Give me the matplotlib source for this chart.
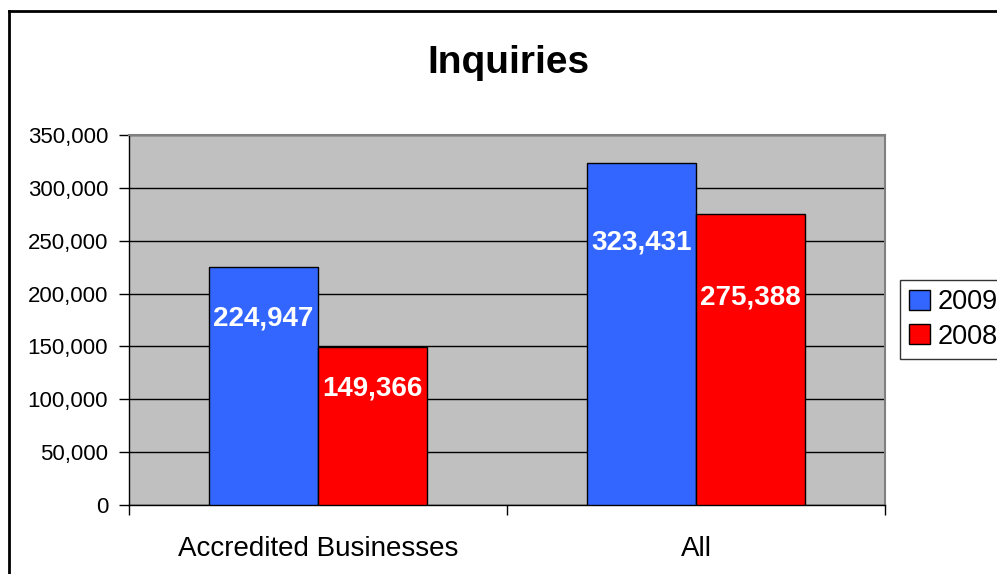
import numpy as np
import matplotlib.pyplot as plt
from matplotlib.lines import Line2D

# data
categories = ['Accredited Businesses', 'All']
series_names = ['2009', '2008']
values_2009 = [224947, 323431]
values_2008 = [149366, 275388]
yticks = [0, 50000, 100000, 150000, 200000, 250000, 300000, 350000]

# how far below the bar top the value labels sit (points)
label_drop_2009 = [37, 57]
label_drop_2008 = [30, 60]

plt.rcParams['font.family'] = ['Liberation Sans', 'DejaVu Sans']

fig = plt.figure(figsize=(9.97, 5.74), dpi=100)
ax = fig.add_axes([129/997, 69/574, 756/997, 370/574])
ax.set_facecolor('#C0C0C0')

x = np.arange(len(categories))
w = 0.288
b1 = ax.bar(x - w/2, values_2009, w, color='#3366FF', edgecolor='black', linewidth=1, label=series_names[0], zorder=3)
b2 = ax.bar(x + w/2, values_2008, w, color='#FF0000', edgecolor='black', linewidth=1, label=series_names[1], zorder=3)

for bars, drops in ((b1, label_drop_2009), (b2, label_drop_2008)):
    for r, d in zip(bars, drops):
        h = r.get_height()
        ax.annotate(f'{h:,}', (r.get_x() + r.get_width()/2, h), xytext=(0, -d),
                    textcoords='offset points', ha='center', va='center',
                    color='white', fontsize=20, fontweight='bold', zorder=4)

ax.set_xlim(-0.5, 1.5)
ax.set_ylim(0, 350000)
ax.set_yticks(yticks)
ax.set_yticklabels([f'{v:,}' for v in yticks], fontsize=16)
ax.yaxis.grid(True, color='black', linewidth=1, zorder=1)

# category labels centred, ticks between categories
ax.set_xticks([-0.5, 0.5, 1.5])
ax.set_xticklabels([])
ax.set_xticks(x, minor=True)
ax.set_xticklabels(categories, minor=True, fontsize=20)
ax.tick_params(axis='x', which='minor', length=0, pad=22)
ax.tick_params(axis='x', which='major', length=7, width=1, direction='out')
ax.tick_params(axis='y', length=7, width=1, pad=8)

for s in ('top', 'right'):
    ax.spines[s].set_color('#808080')
    ax.spines[s].set_linewidth(1.5)
for s in ('left', 'bottom'):
    ax.spines[s].set_color('black')
    ax.spines[s].set_linewidth(1)

fig.text(508/997, 1 - 63/574, 'Inquiries', ha='center', va='center',
         fontsize=28, fontweight='bold')

leg = fig.legend(handles=[b1, b2], loc='upper left', bbox_to_anchor=(900/997, 1 - 280/574),
                 fontsize=19.5, frameon=True, fancybox=False, handlelength=0.75,
                 handleheight=0.75, handletextpad=0.3, borderpad=0.35, labelspacing=0.3,
                 borderaxespad=0)
leg.get_frame().set_edgecolor('black')
leg.get_frame().set_linewidth(1)

# outer chart border (cut off on right and bottom)
fig.add_artist(Line2D([9/997, 9/997], [0, 1 - 11/574], color='black', linewidth=2))
fig.add_artist(Line2D([9/997, 1], [1 - 11/574, 1 - 11/574], color='black', linewidth=2))

fig.savefig('out.png', dpi=100)
